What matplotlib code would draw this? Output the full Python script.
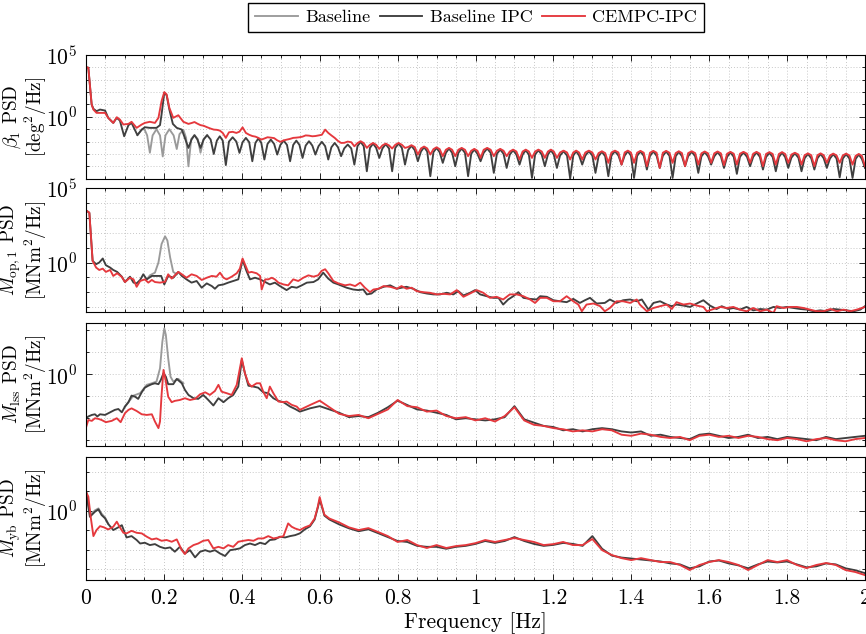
import numpy as np
import matplotlib
matplotlib.use("Agg")
import matplotlib.pyplot as plt
from matplotlib.ticker import FixedLocator, FuncFormatter

plt.rcParams["font.family"] = ["cmr10", "DejaVu Serif"]
plt.rcParams["mathtext.fontset"] = "cm"
plt.rcParams["axes.unicode_minus"] = False
plt.rcParams["font.size"] = 15.5

# colours of the three controllers
C_BASE = "#9a9a9a"
C_IPC = "#3f3f3f"
C_CEMPC = "#e5383d"

# x axis
xtick_pos = [0, 0.2, 0.4, 0.6, 0.8, 1.0, 1.2, 1.4, 1.6, 1.8, 2.0]
xtick_labels = ["0", "0.2", "0.4", "0.6", "0.8", "1", "1.2", "1.4", "1.6", "1.8", "2"]

# ---------------- panel 1: beta_1 PSD (log10 values) ----------------
beta_cempc_f_head = [0, 0.006, 0.0145, 0.019, 0.027, 0.036, 0.049, 0.057, 0.070, 0.079,
                     0.087, 0.096, 0.109, 0.117, 0.130, 0.143, 0.151, 0.164, 0.177, 0.186,
                     0.194, 0.201, 0.207, 0.214, 0.224, 0.237, 0.250]
beta_cempc_head = [4.02, 3.97, 1.0, 0.59, 0.32, 0.32, 0.32, -0.08, -0.49, -0.03,
                   -0.22, -0.62, -0.57, -0.40, -0.89, -0.62, -0.49, -0.40, -0.49, -0.08,
                   1.27, 2.0, 1.81, 0.73, -0.08, 0.13, -0.40]
beta_ipc_f_head = [0, 0.006, 0.0145, 0.019, 0.027, 0.036, 0.049, 0.057, 0.070, 0.079,
                   0.087, 0.098, 0.109, 0.117, 0.132, 0.143, 0.151, 0.164, 0.181, 0.190,
                   0.194, 0.201, 0.207, 0.214, 0.223, 0.233, 0.246]
beta_ipc_head = [4.02, 3.97, 1.0, 0.65, 0.46, 0.59, 0.51, -0.08, -0.49, -0.08,
                 -0.30, -1.57, -0.67, -0.49, -1.48, -1.03, -0.84, -0.89, -0.89, -0.67,
                 0.19, 1.94, 1.75, 0.59, -0.57, -0.89, -1.03]
# shared grid through the periodic part (dip, rise, hump, fall)
beta_f_tail = [
    0.263, 0.271, 0.2785, 0.286, 0.294, 0.302, 0.311, 0.320, 0.328, 0.336, 0.3435, 0.351,
    0.359, 0.367, 0.3765, 0.386, 0.394, 0.402, 0.4105, 0.419, 0.427, 0.435, 0.4425, 0.450,
    0.458, 0.466, 0.4745, 0.483, 0.491, 0.499, 0.5075, 0.516, 0.524, 0.532, 0.540, 0.548,
    0.556, 0.564, 0.5725, 0.581, 0.589, 0.597, 0.6055, 0.614, 0.622, 0.630, 0.6385, 0.647,
    0.655, 0.663, 0.672, 0.681, 0.689, 0.697, 0.705, 0.713, 0.721, 0.729, 0.737, 0.745,
    0.753, 0.761, 0.7695, 0.778, 0.786, 0.794, 0.8025, 0.811, 0.819, 0.827, 0.8355, 0.844,
    0.852, 0.860, 0.868, 0.876, 0.884, 0.892, 0.900, 0.908, 0.916, 0.924, 0.932, 0.940,
    0.948, 0.956, 0.9645, 0.973, 0.981, 0.989, 0.997, 1.005, 1.013, 1.021, 1.030, 1.039,
    1.047, 1.055, 1.0635, 1.072, 1.080, 1.088, 1.0965, 1.105, 1.113, 1.121, 1.129, 1.137,
    1.145, 1.153, 1.1615, 1.170, 1.178, 1.186, 1.1935, 1.201, 1.209, 1.217, 1.226, 1.235,
    1.243, 1.251, 1.2585, 1.266, 1.274, 1.282, 1.291, 1.300, 1.308, 1.316, 1.3245, 1.333,
    1.341, 1.349, 1.358, 1.367, 1.375, 1.383, 1.391, 1.399, 1.407, 1.415, 1.4235, 1.432,
    1.440, 1.448, 1.4565, 1.465, 1.473, 1.481, 1.4895, 1.498, 1.506, 1.514, 1.522, 1.530,
    1.538, 1.546, 1.555, 1.564, 1.572, 1.580, 1.5885, 1.597, 1.605, 1.613, 1.6215, 1.630,
    1.638, 1.646, 1.6545, 1.663, 1.671, 1.679, 1.688, 1.697, 1.705, 1.713, 1.7215, 1.730,
    1.738, 1.746, 1.7545, 1.763, 1.771, 1.779, 1.787, 1.795, 1.803, 1.811, 1.820, 1.829,
    1.837, 1.845, 1.8535, 1.862, 1.870, 1.878, 1.886, 1.894, 1.902, 1.910, 1.9185, 1.927,
    1.935, 1.943, 1.9515, 1.960, 1.968, 1.976, 1.984, 1.992, 2.000]
beta_ipc_tail = [
    -2.51, -1.83, -1.48, -1.83, -2.51, -1.83, -1.48, -1.83, -3.00, -1.92, -1.57, -1.92,
    -3.90, -2.00, -1.65, -2.00, -2.91, -2.05, -1.70, -2.05, -3.59, -2.10, -1.75, -2.10,
    -3.45, -2.19, -1.84, -2.19, -3.05, -2.27, -1.92, -2.27, -3.59, -2.27, -1.92, -2.27,
    -3.32, -2.32, -1.97, -2.32, -3.05, -2.37, -2.02, -2.37, -3.45, -2.46, -2.11, -2.46,
    -3.18, -2.55, -2.24, -2.55, -3.86, -2.37, -2.02, -2.37, -4.40, -2.51, -2.16, -2.51,
    -3.32, -2.56, -2.21, -2.56, -4.40, -2.51, -2.16, -2.51, -3.86, -2.69, -2.34, -2.69,
    -3.59, -2.80, -2.45, -2.80, -4.80, -2.86, -2.51, -2.86, -3.72, -2.91, -2.56, -2.91,
    -3.99, -2.91, -2.56, -2.91, -4.80, -2.99, -2.64, -2.99, -3.59, -2.91, -2.56, -2.91,
    -4.53, -2.99, -2.64, -2.99, -4.13, -3.05, -2.70, -3.05, -3.86, -3.05, -2.70, -3.05,
    -4.94, -3.05, -2.70, -3.05, -3.99, -3.05, -2.70, -3.05, -4.13, -3.13, -2.78, -3.13,
    -4.99, -3.13, -2.78, -3.13, -3.86, -3.13, -2.78, -3.13, -4.53, -3.18, -2.83, -3.18,
    -4.80, -3.13, -2.78, -3.13, -3.86, -3.13, -2.78, -3.13, -4.94, -3.15, -2.80, -3.15,
    -4.26, -3.15, -2.80, -3.15, -4.13, -3.15, -2.80, -3.15, -4.94, -3.18, -2.83, -3.18,
    -3.99, -3.18, -2.83, -3.18, -4.53, -3.20, -2.85, -3.20, -3.86, -3.20, -2.85, -3.20,
    -4.13, -3.23, -2.88, -3.23, -4.61, -3.23, -2.88, -3.23, -3.99, -3.23, -2.88, -3.23,
    -4.26, -3.25, -2.90, -3.25, -4.40, -3.25, -2.90, -3.25, -4.13, -3.30, -2.95, -3.30,
    -4.40, -3.35, -3.00, -3.35, -4.26, -3.35, -3.00, -3.35, -4.13, -3.37, -3.02, -3.37,
    -4.89, -3.37, -3.02, -3.37, -4.94, -3.40, -3.05, -3.40, -4.13]
beta_cempc_tail = [
    -0.57, -0.50, -0.42, -0.55, -0.67, -0.72, -0.84, -0.95, -1.03, -1.05, -1.11, -1.30,
    -1.70, -1.25, -1.21, -1.30, -1.20, -0.85, -1.30, -1.45, -1.55, -1.60, -1.70, -1.84,
    -1.75, -1.65, -1.68, -1.72, -1.90, -2.02, -1.90, -1.84, -1.78, -1.70, -1.68, -1.65,
    -1.60, -1.50, -1.52, -1.57, -1.55, -1.50, -1.45, -1.03, -1.30, -1.50, -1.70, -1.95,
    -2.11, -2.10, -2.00, -2.05, -2.38, -2.12, -1.97, -2.12, -2.51, -2.26, -2.11, -2.26,
    -2.59, -2.31, -2.16, -2.31, -2.56, -2.26, -2.11, -2.26, -2.51, -2.44, -2.29, -2.44,
    -3.05, -2.55, -2.40, -2.55, -3.05, -2.61, -2.46, -2.61, -3.18, -2.66, -2.51, -2.66,
    -3.18, -2.66, -2.51, -2.66, -3.18, -2.74, -2.59, -2.74, -3.32, -2.66, -2.51, -2.66,
    -3.18, -2.74, -2.59, -2.74, -3.18, -2.80, -2.65, -2.80, -3.45, -2.80, -2.65, -2.80,
    -3.32, -2.80, -2.65, -2.80, -3.32, -2.80, -2.65, -2.80, -3.32, -2.88, -2.73, -2.88,
    -3.45, -2.88, -2.73, -2.88, -3.45, -2.88, -2.73, -2.88, -3.45, -2.93, -2.78, -2.93,
    -3.72, -2.88, -2.73, -2.88, -3.86, -2.88, -2.73, -2.88, -3.72, -2.90, -2.75, -2.90,
    -3.99, -2.90, -2.75, -2.90, -4.13, -2.90, -2.75, -2.90, -3.72, -2.93, -2.78, -2.93,
    -3.99, -2.93, -2.78, -2.93, -3.86, -2.95, -2.80, -2.95, -3.72, -2.95, -2.80, -2.95,
    -3.91, -2.98, -2.83, -2.98, -3.86, -2.98, -2.83, -2.98, -3.72, -2.98, -2.83, -2.98,
    -3.99, -3.00, -2.85, -3.00, -3.86, -3.00, -2.85, -3.00, -3.72, -3.05, -2.90, -3.05,
    -3.86, -3.10, -2.95, -3.10, -3.99, -3.10, -2.95, -3.10, -3.72, -3.12, -2.97, -3.12,
    -3.72, -3.12, -2.97, -3.12, -3.86, -3.15, -3.00, -3.15, -3.99]
beta_base_f = [0.132, 0.143, 0.150, 0.157, 0.164, 0.171, 0.181, 0.190, 0.197, 0.204,
               0.214, 0.225, 0.233, 0.240, 0.250, 0.257, 0.263, 0.270, 0.2785, 0.287,
               0.294, 0.302, 0.311]
beta_base = [-1.48, -1.03, -1.0, -1.5, -2.9, -1.5, -1.0, -1.5, -3.2, -1.5,
             -1.0, -1.5, -2.6, -1.4, -1.05, -1.7, -4.0, -1.8, -1.48, -1.8,
             -2.9, -1.8, -1.48]

# ---------------- panel 2: M_op,1 PSD ----------------
mop_cempc_f = [
    0.000, 0.0086, 0.017, 0.026, 0.034, 0.043, 0.051, 0.062, 0.070, 0.080,
    0.092, 0.100, 0.113, 0.122, 0.130, 0.139, 0.151, 0.160, 0.169, 0.177,
    0.190, 0.203, 0.211, 0.220, 0.228, 0.237, 0.246, 0.258, 0.271, 0.284,
    0.297, 0.310, 0.323, 0.335, 0.344, 0.353, 0.361, 0.374, 0.387, 0.395,
    0.402, 0.408, 0.417, 0.425, 0.438, 0.447, 0.451, 0.460, 0.468, 0.477,
    0.485, 0.494, 0.507, 0.519, 0.532, 0.545, 0.558, 0.571, 0.584, 0.596,
    0.605, 0.614, 0.622, 0.635, 0.648,
    0.665, 0.678, 0.691, 0.704, 0.716, 0.729, 0.738, 0.751, 0.764, 0.781,
    0.798, 0.810, 0.823, 0.836, 0.849, 0.866, 0.883, 0.901, 0.918, 0.935,
    0.952, 0.969, 0.986, 1.003, 1.020, 1.037, 1.054, 1.071, 1.088, 1.106,
    1.123, 1.140, 1.153, 1.166, 1.183, 1.200, 1.217, 1.234, 1.251, 1.264,
    1.273, 1.285, 1.303,
    1.320, 1.332, 1.345, 1.362, 1.379, 1.397, 1.414, 1.422, 1.440, 1.457,
    1.474, 1.491, 1.504, 1.516, 1.534, 1.551, 1.568, 1.585, 1.594, 1.611,
    1.628, 1.645, 1.662, 1.679, 1.696, 1.713, 1.731, 1.748, 1.765, 1.773,
    1.791, 1.808, 1.825, 1.842, 1.859, 1.876, 1.893, 1.911, 1.928, 1.945,
    1.962, 1.979, 2.000]
mop_cempc = [
    3.50, 3.34, 0.11, -0.34, -0.50, -0.41, -0.63, -0.50, -0.90, -0.72,
    -0.97, -1.31, -1.02, -1.13, -1.63, -1.24, -1.13, -1.35, -1.17, -1.31,
    -1.35, -1.29, -0.79, -1.08, -0.86, -0.63, -0.79, -1.02, -0.79, -0.90,
    -1.17, -1.02, -0.90, -0.95, -0.68, -1.02, -1.13, -0.95, -0.72, -0.41,
    0.27, -0.11, -0.68, -0.63, -0.72, -0.90, -1.81, -1.13, -1.13, -1.02,
    -1.13, -1.35, -1.47, -1.53, -1.13, -1.24, -1.02, -0.86, -0.95, -0.86,
    -0.56, -0.45, -0.72, -1.24, -1.40,
    -1.53, -1.47, -1.58, -1.35, -1.69, -1.99, -1.81, -1.76, -1.58, -1.63,
    -1.76, -1.58, -1.76, -1.69, -1.92, -1.99, -2.03, -2.14, -2.10, -2.14,
    -1.85, -2.30, -2.08, -1.85, -2.03, -2.37, -2.30, -2.48, -2.14, -2.14,
    -2.26, -2.48, -2.71, -2.37, -2.37, -2.60, -2.60, -2.26, -2.60, -2.82,
    -3.27, -2.82, -2.75,
    -2.93, -3.27, -3.05, -2.60, -2.60, -2.71, -2.48, -2.82, -3.27, -3.05,
    -2.93, -2.82, -3.12, -2.66, -2.82, -2.75, -2.89, -2.98, -3.27, -3.12,
    -2.98, -3.05, -2.98, -3.16, -3.27, -3.05, -3.27, -3.16, -3.39, -2.93,
    -3.05, -2.98, -2.98, -3.05, -3.16, -3.27, -3.27, -3.12, -3.27, -3.16,
    -3.27, -3.16, -2.98]
mop_ipc_f = [
    0.000, 0.0086, 0.017, 0.026, 0.034, 0.043, 0.051, 0.062, 0.070, 0.080,
    0.092, 0.100, 0.113, 0.122, 0.130, 0.139, 0.147, 0.156, 0.169, 0.181,
    0.193, 0.201, 0.211, 0.224, 0.237, 0.246, 0.258, 0.271, 0.284, 0.297,
    0.310, 0.323, 0.331, 0.340, 0.353, 0.365, 0.378, 0.391, 0.402, 0.411,
    0.421, 0.434, 0.447, 0.460, 0.472, 0.485, 0.498, 0.515, 0.528, 0.541,
    0.554, 0.567, 0.584, 0.596, 0.609, 0.622, 0.635, 0.648,
    0.669, 0.686, 0.699, 0.712, 0.721, 0.733, 0.746, 0.764, 0.781, 0.798,
    0.810, 0.823, 0.840, 0.858, 0.875, 0.892, 0.909, 0.926, 0.943, 0.956,
    0.969, 0.986, 0.999, 1.012, 1.029, 1.046, 1.059, 1.071, 1.084, 1.097,
    1.110, 1.123, 1.140, 1.157, 1.166, 1.183, 1.200, 1.217, 1.234,
    1.251, 1.268, 1.281, 1.294, 1.311,
    1.332, 1.345, 1.362, 1.379, 1.397, 1.414, 1.427, 1.444, 1.457, 1.474,
    1.491, 1.504, 1.516, 1.534, 1.551, 1.568, 1.585, 1.602, 1.619, 1.632,
    1.649, 1.662, 1.679, 1.696, 1.713, 1.731, 1.748, 1.765, 1.782, 1.799,
    1.816, 1.834, 1.851, 1.868, 1.885, 1.902, 1.919, 1.936, 1.953, 1.971,
    1.988, 2.000]
mop_ipc = [
    3.50, 3.34, 0.11, -0.11, 0.00, 0.27, -0.18, -0.34, -0.50, -0.63,
    -0.95, -1.31, -0.95, -1.35, -1.40, -1.17, -0.79, -1.13, -0.90, -0.90,
    -0.90, -1.47, -0.90, -1.02, -0.63, -0.90, -1.13, -1.35, -1.24, -1.69,
    -1.40, -1.58, -1.76, -1.53, -1.47, -1.35, -1.24, -1.13, 0.18, -0.50,
    -1.13, -1.02, -1.13, -1.31, -1.47, -1.35, -1.58, -1.85, -1.63, -1.69,
    -1.53, -1.35, -1.31, -1.13, -0.68, -1.08, -1.35, -1.47,
    -1.69, -1.81, -1.85, -1.81, -2.14, -2.08, -1.81, -1.63, -1.53, -1.76,
    -1.69, -1.63, -1.76, -1.99, -2.08, -2.14, -2.14, -2.03, -2.14, -1.92,
    -2.21, -2.03, -1.85, -2.14, -2.26, -2.37, -2.37, -2.82, -2.48, -2.26,
    -1.99, -2.37, -2.44, -2.48, -2.26, -2.30, -2.53, -2.60, -2.66,
    -2.44, -2.71, -2.53, -2.37, -2.75,
    -2.71, -2.48, -2.71, -2.53, -2.48, -2.60, -2.48, -3.16, -2.71, -2.60,
    -2.82, -2.93, -2.82, -2.89, -2.98, -2.75, -2.53, -2.89, -3.12, -2.93,
    -3.12, -3.05, -3.16, -2.98, -3.21, -3.12, -3.16, -2.98, -3.05, -2.98,
    -3.05, -3.12, -3.16, -3.27, -3.21, -3.27, -3.12, -3.16, -3.21, -3.27,
    -3.16, -2.93]
mop_base_f = [0.156, 0.164, 0.177, 0.186, 0.194, 0.203, 0.209, 0.216, 0.224, 0.233]
mop_base = [-1.13, -0.86, -0.68, 0.0, 1.24, 1.76, 1.47, 0.34, -0.63, -0.79]

# ---------------- panel 3: M_lss PSD ----------------
mlss_ipc_f_head = [
    0.000, 0.006, 0.015, 0.023, 0.029, 0.036, 0.049, 0.062, 0.074, 0.083,
    0.092, 0.100, 0.109, 0.117, 0.126, 0.134, 0.143, 0.151, 0.160, 0.169,
    0.177, 0.186, 0.192, 0.199, 0.205, 0.211, 0.224, 0.233, 0.246, 0.254,
    0.263, 0.276, 0.288, 0.301, 0.314, 0.327, 0.340, 0.353, 0.365, 0.378,
    0.391, 0.400, 0.408, 0.417, 0.430, 0.442, 0.455, 0.468, 0.481, 0.494,
    0.507, 0.524, 0.537, 0.549]
mlss_ipc_head = [
    -2.0, -1.92, -1.85, -1.82, -1.92, -1.82, -1.85, -1.73, -1.62, -1.58,
    -1.73, -1.47, -1.27, -0.97, -1.02, -1.12, -0.82, -0.61, -0.52, -0.45,
    -0.41, -0.45, -0.26, 0.05, -0.11, -0.45, -0.45, -0.21, -0.41, -0.71,
    -0.94, -1.09, -1.12, -0.94, -1.17, -1.42, -1.09, -1.27, -1.09, -0.94,
    -0.56, 0.65, 0.05, -0.52, -0.56, -0.61, -0.82, -0.86, -1.09, -1.21,
    -1.27, -1.47, -1.58, -1.70]
mlss_cempc_f_head = [
    0.000, 0.006, 0.015, 0.023, 0.032, 0.040, 0.051, 0.066, 0.079, 0.089,
    0.100, 0.109, 0.117, 0.130, 0.143, 0.156, 0.169, 0.177, 0.186, 0.190,
    0.194, 0.199, 0.205, 0.211, 0.220, 0.228, 0.241, 0.254, 0.267, 0.280,
    0.293, 0.306, 0.318, 0.331, 0.340, 0.348, 0.361, 0.374, 0.387, 0.400,
    0.408, 0.417, 0.425, 0.438, 0.447, 0.455, 0.464, 0.472, 0.481, 0.494,
    0.507, 0.515, 0.528, 0.541, 0.549]
mlss_cempc_head = [
    -2.42, -2.08, -2.12, -2.0, -2.03, -2.08, -2.18, -2.12, -2.0, -2.18,
    -1.77, -1.62, -1.55, -1.67, -1.82, -1.85, -1.82, -2.15, -2.45, -2.15,
    -0.94, 0.20, -0.33, -1.02, -1.27, -1.21, -1.17, -1.09, -1.17, -1.12,
    -0.91, -0.82, -0.94, -0.76, -0.48, -0.79, -0.86, -0.94, -0.48, 0.73,
    0.05, -0.41, -0.56, -0.41, -0.41, -0.79, -1.09, -0.56, -0.86, -1.24,
    -1.27, -1.24, -1.39, -1.47, -1.62]
mlss_f_tail = [
    0.575, 0.600, 0.625, 0.650, 0.675, 0.700, 0.725, 0.750, 0.775, 0.800,
    0.825, 0.850, 0.875, 0.900, 0.925, 0.950, 0.975, 1.000, 1.025, 1.050,
    1.075, 1.100, 1.125, 1.150, 1.175, 1.200, 1.225, 1.250, 1.275, 1.300,
    1.325, 1.350, 1.375, 1.400, 1.425, 1.450, 1.475, 1.500, 1.525, 1.550,
    1.575, 1.600, 1.625, 1.650, 1.675, 1.700, 1.725, 1.750, 1.775, 1.800,
    1.825, 1.850, 1.875, 1.900, 1.925, 1.950, 1.975, 2.000]
mlss_cempc_tail = [
    -1.40, -1.20, -1.50, -1.80, -1.90, -1.85, -2.00, -1.80, -1.60, -1.17,
    -1.45, -1.50, -1.70, -1.65, -1.90, -2.00, -1.95, -2.10, -2.00, -2.15,
    -1.90, -1.50, -2.10, -2.30, -2.35, -2.45, -2.50, -2.60, -2.55, -2.60,
    -2.50, -2.55, -2.75, -2.80, -2.70, -2.75, -2.85, -2.90, -2.85, -3.00,
    -2.80, -2.75, -2.85, -2.80, -2.90, -2.80, -2.85, -2.95, -3.00, -2.90,
    -2.95, -3.05, -2.95, -2.90, -3.00, -3.05, -2.95, -2.90]
mlss_ipc_tail = [
    -1.55, -1.45, -1.60, -1.75, -1.95, -1.90, -1.95, -1.75, -1.50, -1.20,
    -1.40, -1.60, -1.65, -1.75, -1.85, -2.05, -2.00, -2.05, -2.10, -2.05,
    -1.95, -1.45, -2.05, -2.20, -2.35, -2.40, -2.55, -2.50, -2.60, -2.50,
    -2.45, -2.50, -2.60, -2.65, -2.60, -2.80, -2.75, -2.85, -2.90, -2.95,
    -2.75, -2.70, -2.80, -2.90, -2.85, -2.75, -2.90, -2.85, -2.95, -2.85,
    -2.90, -2.95, -3.00, -2.85, -2.95, -2.90, -2.85, -2.80]
mlss_base_f = [0.100, 0.122, 0.139, 0.156, 0.169, 0.181, 0.190, 0.196, 0.201, 0.205,
               0.211, 0.217, 0.224, 0.237, 0.250]
mlss_base = [-1.47, -0.97, -0.86, -0.48, -0.41, -0.33, 0.27, 1.48, 2.09, 1.79,
             0.73, -0.11, -0.33, -0.21, -0.41]

# ---------------- panel 4: M_yb PSD ----------------
myb_ipc_f_head = [
    0.000, 0.006, 0.010, 0.023, 0.032, 0.040, 0.049, 0.057, 0.070, 0.083,
    0.092, 0.104, 0.117, 0.130, 0.139, 0.151, 0.164, 0.177, 0.190, 0.203,
    0.216, 0.228, 0.241, 0.254, 0.267, 0.280, 0.293, 0.306, 0.318, 0.331,
    0.344, 0.357, 0.370, 0.383, 0.395, 0.408, 0.421, 0.434, 0.447, 0.460,
    0.472, 0.485, 0.498, 0.511, 0.524, 0.537, 0.549]
myb_ipc_head = [
    1.03, 0.21, -0.31, -0.05, 0.07, -0.22, -0.39, -0.68, -0.99, -0.85,
    -0.74, -1.37, -1.30, -1.50, -1.68, -1.64, -1.76, -1.71, -1.85, -1.93,
    -1.88, -2.10, -1.85, -2.19, -2.02, -2.39, -2.10, -2.02, -2.10, -2.02,
    -2.19, -2.32, -2.02, -1.98, -1.93, -1.76, -1.68, -1.76, -1.64, -1.71,
    -1.50, -1.47, -1.33, -1.37, -1.30, -1.25, -1.16]
myb_cempc_f_head = [
    0.000, 0.006, 0.012, 0.019, 0.027, 0.036, 0.046, 0.057, 0.070, 0.079,
    0.087, 0.096, 0.104, 0.117, 0.130, 0.143, 0.156, 0.169, 0.181, 0.194,
    0.207, 0.220, 0.233, 0.246, 0.254, 0.263, 0.276, 0.288, 0.301, 0.314,
    0.327, 0.340, 0.353, 0.365, 0.378, 0.391, 0.404, 0.417, 0.430, 0.442,
    0.455, 0.468, 0.481, 0.494, 0.507, 0.519, 0.528, 0.537, 0.549]
myb_cempc_head = [
    0.97, 0.72, -0.31, -1.30, -0.99, -0.79, -0.85, -0.96, -0.82, -0.56,
    -0.85, -1.13, -1.16, -1.03, -1.13, -1.16, -1.33, -1.47, -1.42, -1.54,
    -1.50, -1.59, -1.47, -2.02, -2.22, -1.93, -1.76, -1.68, -1.54, -1.50,
    -1.93, -1.85, -1.93, -1.76, -1.85, -1.59, -1.54, -1.50, -1.54, -1.42,
    -1.42, -1.30, -1.42, -1.37, -1.30, -0.65, -0.82, -0.91, -0.99]
myb_f_tail = [
    0.562, 0.575, 0.587, 0.595, 0.600, 0.605, 0.612, 0.625,
    0.650, 0.675, 0.700, 0.725, 0.750, 0.775, 0.800, 0.825, 0.850, 0.875,
    0.900, 0.925, 0.950, 0.975, 1.000, 1.025, 1.050, 1.075, 1.100, 1.125,
    1.150, 1.175, 1.200, 1.225, 1.250, 1.275, 1.300, 1.325, 1.350, 1.375,
    1.400, 1.425, 1.450, 1.475, 1.500, 1.525, 1.550, 1.575, 1.600, 1.625,
    1.650, 1.675, 1.700, 1.725, 1.750, 1.775, 1.800, 1.825, 1.850, 1.875,
    1.900, 1.925, 1.950, 1.975, 2.000]
myb_cempc_tail = [
    -0.85, -0.75, -0.40, 0.20, 0.70, 0.30, -0.20, -0.40,
    -0.60, -0.85, -0.99, -0.89, -1.09, -1.30, -1.60, -1.50, -1.76, -1.91,
    -1.76, -1.91, -1.81, -1.76, -1.66, -1.50, -1.60, -1.50, -1.40, -1.50,
    -1.60, -1.76, -1.71, -1.60, -1.76, -1.76, -1.45, -2.02, -2.27, -2.43,
    -2.53, -2.43, -2.53, -2.63, -2.63, -2.78, -3.04, -2.78, -2.63, -2.53,
    -2.63, -2.78, -3.04, -2.78, -2.53, -2.63, -2.53, -2.78, -2.94, -2.78,
    -2.68, -2.78, -3.04, -3.14, -3.30]
myb_ipc_tail = [
    -0.95, -0.80, -0.45, 0.15, 0.55, 0.25, -0.25, -0.45,
    -0.70, -0.90, -1.05, -0.95, -1.15, -1.35, -1.55, -1.60, -1.80, -1.85,
    -1.85, -1.95, -1.85, -1.80, -1.70, -1.55, -1.65, -1.55, -1.35, -1.55,
    -1.70, -1.80, -1.75, -1.65, -1.70, -1.80, -1.30, -1.95, -2.30, -2.40,
    -2.45, -2.50, -2.55, -2.60, -2.70, -2.75, -2.95, -2.85, -2.60, -2.55,
    -2.70, -2.80, -2.95, -2.75, -2.60, -2.65, -2.60, -2.75, -2.90, -2.85,
    -2.70, -2.75, -2.95, -3.05, -3.20]
myb_base_f = [0.000, 0.006, 0.012, 0.023, 0.032, 0.040, 0.049, 0.057]
myb_base = [1.05, 0.30, -0.20, 0.02, 0.12, -0.15, -0.35, -0.66]

# axes boxes in figure fraction: left, bottom, width, height
W, H = 866, 634
boxes = [
    (86 / W, 1 - 178.7 / H, 779 / W, 123.7 / H),
    (86 / W, 1 - 312.3 / H, 779 / W, 124.3 / H),
    (86 / W, 1 - 445.7 / H, 779 / W, 122.4 / H),
    (86 / W, 1 - 580.0 / H, 779 / W, 123.3 / H),
]

panels = [
    dict(ylabel="$\\beta_1$ PSD\n[deg$^2$/Hz]", ylim=(1e-5, 1e5),
         base=(beta_base_f, beta_base),
         ipc=(beta_ipc_f_head + beta_f_tail, beta_ipc_head + beta_ipc_tail),
         cempc=(beta_cempc_f_head + beta_f_tail, beta_cempc_head + beta_cempc_tail)),
    dict(ylabel="$M_\\mathrm{op,1}$ PSD\n[MNm$^2$/Hz]", ylim=(10 ** -3.34, 1e5),
         base=(mop_base_f, mop_base),
         ipc=(mop_ipc_f, mop_ipc),
         cempc=(mop_cempc_f, mop_cempc)),
    dict(ylabel="$M_\\mathrm{lss}$ PSD\n[MNm$^2$/Hz]", ylim=(10 ** -3.25, 10 ** 2.32),
         base=(mlss_base_f, mlss_base),
         ipc=(mlss_ipc_f_head + mlss_f_tail, mlss_ipc_head + mlss_ipc_tail),
         cempc=(mlss_cempc_f_head + mlss_f_tail, mlss_cempc_head + mlss_cempc_tail)),
    dict(ylabel="$M_\\mathrm{yb}$ PSD\n[MNm$^2$/Hz]", ylim=(10 ** -3.55, 10 ** 2.77),
         base=(myb_base_f, myb_base),
         ipc=(myb_ipc_f_head + myb_f_tail, myb_ipc_head + myb_ipc_tail),
         cempc=(myb_cempc_f_head + myb_f_tail, myb_cempc_head + myb_cempc_tail)),
]

fig = plt.figure(figsize=(8.66, 6.34), dpi=100)
decades = 10.0 ** np.arange(-6, 7)

for i, (box, p) in enumerate(zip(boxes, panels)):
    ax = fig.add_axes(box)
    for key, color, label in [("base", C_BASE, "Baseline"),
                              ("ipc", C_IPC, "Baseline IPC"),
                              ("cempc", C_CEMPC, "CEMPC-IPC")]:
        f, v = p[key]
        ax.plot(f, 10.0 ** np.asarray(v), color=color, lw=1.35, label=label)
    ax.set_yscale("log")
    ax.set_xlim(0, 2)
    ax.set_ylim(*p["ylim"])

    ax.yaxis.set_major_locator(FixedLocator([1e0, 1e5]))
    ax.yaxis.set_minor_locator(FixedLocator(decades))
    ax.yaxis.set_major_formatter(FuncFormatter(lambda y, _: f"$10^{{{int(round(np.log10(y)))}}}$"))
    ax.yaxis.set_minor_formatter(FuncFormatter(lambda y, _: ""))
    ax.set_xticks(xtick_pos)
    ax.set_xticks(np.arange(0, 2.001, 0.05), minor=True)
    if i == 3:
        ax.set_xticklabels(xtick_labels)
        ax.set_xlabel("Frequency [Hz]", labelpad=3)
    else:
        ax.tick_params(labelbottom=False)

    ax.grid(True, which="both", linestyle=(0, (1, 2.5)), color="#b5b5b5", lw=0.6)
    ax.set_axisbelow(True)
    ax.tick_params(which="both", direction="in", top=True, right=True, width=0.6)
    ax.tick_params(which="major", length=4, pad=6)
    ax.tick_params(which="minor", length=2.2)
    for s in ax.spines.values():
        s.set_linewidth(0.8)

    ax.set_ylabel(p["ylabel"], fontsize=13.8, linespacing=1.0)
    ax.yaxis.set_label_coords(-0.0475, 0.5)

    if i == 0:
        handles, labels = ax.get_legend_handles_labels()

fig.legend(handles, labels, loc="upper center", bbox_to_anchor=(476 / W, 1 - 3 / H),
           borderaxespad=0, ncol=3, frameon=True, fancybox=False, edgecolor="black",
           framealpha=1, fontsize=13, handlelength=2.35, columnspacing=0.55,
           handletextpad=0.4, borderpad=0.38)

fig.savefig("out.png", dpi=100)
